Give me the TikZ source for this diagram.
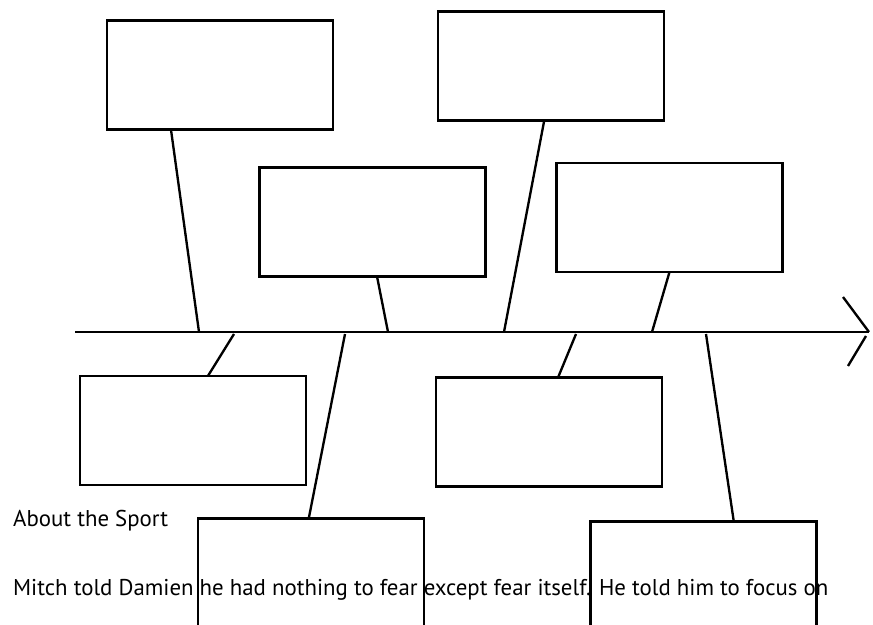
\documentclass[tikz,border=0pt]{standalone}
\usepackage{fontspec}
\setmainfont{PT Sans}
\usetikzlibrary{calc}

\begin{document}
\begin{tikzpicture}[x=0.03cm, y=-0.03cm, line width=2pt,
    causebox/.style={draw, rectangle, inner sep=0pt, outer sep=0pt,
        minimum width=6.78cm, minimum height=3.27cm},
    notetext/.style={anchor=base west, inner sep=0pt, font=\fontsize{19.5}{22}\selectfont}]
    \useasboundingbox (0,0) rectangle (873,625);
    \clip (0,0) rectangle (873,625);
    % spine and open head
    \draw (75,332) coordinate (tail) -- (869,332) coordinate (head);
    \draw (843,297) coordinate (hu) -- (head);
    \draw (866,336) coordinate (hl) -- (848,366) coordinate (hd);
    % boxes above the spine
    \node [causebox] (topleft)  at (220,75)    {};
    \node [causebox] (topright) at (551,66)    {};
    \node [causebox] (midleft)  at (372.5,222) {};
    \node [causebox] (midright) at (669.5,217.5) {};
    % boxes below the spine
    \node [causebox] (lowleft)  at (193,430.5) {};
    \node [causebox] (lowright) at (549,432)   {};
    \node [causebox] (botleft)  at (311,573)   {};
    \node [causebox] (botright) at (703.5,576) {};
    % feet of the bones
    \coordinate (f1) at (199,332);
    \coordinate (f2) at (504,332);
    \coordinate (f3) at (388,332);
    \coordinate (f4) at (652,332);
    \coordinate (f5) at (234,334);
    \coordinate (f6) at (576,334);
    \coordinate (f7) at (345,334);
    \coordinate (f8) at (706,334);
    \draw ($(topleft.south west)!0.283!(topleft.south east)$) -- (f1);
    \draw ($(topright.south west)!0.47!(topright.south east)$) -- (f2);
    \draw ($(midleft.south west)!0.52!(midleft.south east)$) -- (f3);
    \draw (midright.south) -- (f4);
    \draw ($(lowleft.north west)!0.566!(lowleft.north east)$) -- (f5);
    \draw ($(lowright.north west)!0.54!(lowright.north east)$) -- (f6);
    \draw ($(botleft.north west)!0.49!(botleft.north east)$) -- (f7);
    \draw ($(botright.north west)!0.634!(botright.north east)$) -- (f8);
    % running text
    \node [notetext] (heading) at (12,526) {About the Sport};
    \node [notetext] (story) at (12,595) {Mitch told Damien he had nothing to fear except fear itself. He told him to focus on};
\end{tikzpicture}
\end{document}
